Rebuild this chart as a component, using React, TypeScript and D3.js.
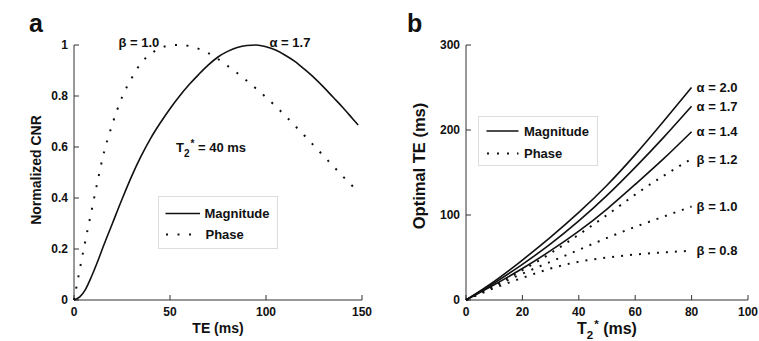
import React from 'react';
import * as d3 from 'd3';

// ---------- Panel a data ----------
const teMag = [0, 3, 6, 9, 12, 15, 20, 25, 30, 35, 40, 45, 50, 55, 60, 65, 70, 75, 80, 85, 90, 95, 100, 105, 110, 115, 120, 125, 130, 135, 140, 145, 148];
const magnitudeCNR = [0, 0.012, 0.042, 0.09, 0.145, 0.205, 0.3, 0.395, 0.485, 0.565, 0.635, 0.695, 0.75, 0.8, 0.845, 0.885, 0.922, 0.953, 0.975, 0.99, 0.998, 1.0, 0.993, 0.98, 0.96, 0.936, 0.905, 0.872, 0.835, 0.795, 0.755, 0.712, 0.686];
const tePhase = [0, 3, 6, 9, 12, 15, 20, 25, 30, 35, 40, 45, 50, 55, 60, 65, 70, 75, 80, 85, 90, 95, 100, 105, 110, 115, 120, 125, 130, 135, 140, 145, 148];
const phaseCNR = [0, 0.12, 0.235, 0.345, 0.455, 0.56, 0.69, 0.795, 0.87, 0.93, 0.965, 0.988, 0.998, 1.0, 0.996, 0.985, 0.968, 0.945, 0.918, 0.89, 0.86, 0.828, 0.795, 0.76, 0.723, 0.684, 0.645, 0.605, 0.565, 0.525, 0.485, 0.447, 0.425];
const xTicksA = [0, 50, 100, 150];
const yTicksA = [0, 0.2, 0.4, 0.6, 0.8, 1];
const yTickLabelsA = ['0', '0.2', '0.4', '0.6', '0.8', '1'];

// ---------- Panel b data ----------
const t2Star = [0, 10, 20, 30, 40, 50, 60, 70, 80];
const alpha20 = [0, 22, 47, 74, 103, 135, 171, 210, 250];
const alpha17 = [0, 20, 42, 66, 93, 123, 156, 191, 228];
const alpha14 = [0, 18, 37, 58, 81, 107, 136, 166, 198];
const beta12 = [0, 17, 35, 55, 77, 100, 124, 146, 166];
const beta10 = [0, 16, 31, 45, 59, 73, 86, 98, 110];
const beta08 = [0, 14, 26, 37, 45, 50, 53.5, 56, 58];
const seriesB = [
  { label: 'α = 2.0', values: alpha20, dotted: false },
  { label: 'α = 1.7', values: alpha17, dotted: false },
  { label: 'α = 1.4', values: alpha14, dotted: false },
  { label: 'β = 1.2', values: beta12, dotted: true },
  { label: 'β = 1.0', values: beta10, dotted: true },
  { label: 'β = 0.8', values: beta08, dotted: true },
];
const xTicksB = [0, 20, 40, 60, 80, 100];
const yTicksB = [0, 100, 200, 300];

const FONT = '"Liberation Sans", Arial, Helvetica, sans-serif';
const INK = '#111';
const AXIS = '#333';

export default function App() {
  const xA = d3.scaleLinear().domain([0, 150]).range([74, 362]);
  const yA = d3.scaleLinear().domain([0, 1]).range([300, 45]);
  const xB = d3.scaleLinear().domain([0, 100]).range([466, 748]);
  const yB = d3.scaleLinear().domain([0, 300]).range([300, 45]);

  const lineA = (xs: number[], ys: number[]) =>
    d3.line<number>().x((_, i) => xA(xs[i])).y((d) => yA(d)).curve(d3.curveMonotoneX)(ys) || '';
  const lineB = (ys: number[]) =>
    d3.line<number>().x((_, i) => xB(t2Star[i])).y((d) => yB(d)).curve(d3.curveNatural)(ys) || '';

  const dotA = '2 9.5';
  const dotB = '2 7';

  return (
    <svg width={759} height={341} style={{ position: 'absolute', left: 0, top: 0, background: '#fff' }} fontFamily={FONT} fontWeight="bold">
      <rect x={0} y={0} width={759} height={341} fill="#fff" />
      {/* ===== Panel a ===== */}
      <text x={29} y={32} fontSize={25} fill={INK}>a</text>
      <line x1={xA(0)} x2={xA(150)} y1={yA(0)} y2={yA(0)} stroke={AXIS} strokeWidth={1} />
      <line x1={xA(0)} x2={xA(0)} y1={yA(0)} y2={yA(1)} stroke={AXIS} strokeWidth={1} />
      {xTicksA.map((t) => (
        <g key={'xa' + t}>
          <line x1={xA(t)} x2={xA(t)} y1={yA(0)} y2={yA(0) - 5} stroke={AXIS} />
          <text x={xA(t)} y={315.5} fontSize={12} textAnchor="middle" fill={INK}>{t}</text>
        </g>
      ))}
      {yTicksA.map((t, i) => (
        <g key={'ya' + t}>
          <line x1={xA(0)} x2={xA(0) + 5} y1={yA(t)} y2={yA(t)} stroke={AXIS} />
          <text x={68} y={yA(t)} dy="0.36em" fontSize={12} textAnchor="end" fill={INK}>{yTickLabelsA[i]}</text>
        </g>
      ))}
      <text x={xA(75)} y={333} fontSize={14} textAnchor="middle" fill={INK}>TE (ms)</text>
      <text transform="translate(41,170) rotate(-90)" fontSize={14} textAnchor="middle" fill={INK}>Normalized CNR</text>
      <path d={lineA(teMag, magnitudeCNR)} fill="none" stroke={INK} strokeWidth={1.6} />
      <path d={lineA(tePhase, phaseCNR)} fill="none" stroke={INK} strokeWidth={2} strokeDasharray={dotA} />
      <text x={118.5} y={46.5} fontSize={13} fill={INK}>β = 1.0</text>
      <text x={269.5} y={46.5} fontSize={13} fill={INK}>α = 1.7</text>
      <text x={176} y={151.5} fontSize={13} fill={INK}>
        T<tspan fontSize={10} dy={5}>2</tspan><tspan fontSize={10} dy={-10} dx={1}>*</tspan><tspan dy={5}> = 40 ms</tspan>
      </text>
      <rect x={158.5} y={196.5} width={119} height={52} fill="#fff" stroke="#ddd" strokeWidth={1} />
      <line x1={165.5} x2={200} y1={213.5} y2={213.5} stroke={INK} strokeWidth={1.6} />
      <text x={204.5} y={218} fontSize={13} fill={INK}>Magnitude</text>
      <line x1={166} x2={200} y1={234.5} y2={234.5} stroke={INK} strokeWidth={2} strokeDasharray={dotA} />
      <text x={205.5} y={239} fontSize={13} fill={INK}>Phase</text>

      {/* ===== Panel b ===== */}
      <text x={407} y={32} fontSize={25} fill={INK}>b</text>
      <line x1={xB(0)} x2={xB(100)} y1={yB(0)} y2={yB(0)} stroke={AXIS} strokeWidth={1} />
      <line x1={xB(0)} x2={xB(0)} y1={yB(0)} y2={yB(300)} stroke={AXIS} strokeWidth={1} />
      {xTicksB.map((t) => (
        <g key={'xb' + t}>
          <line x1={xB(t)} x2={xB(t)} y1={yB(0)} y2={yB(0) - 5} stroke={AXIS} />
          <text x={xB(t)} y={315.5} fontSize={12} textAnchor="middle" fill={INK}>{t}</text>
        </g>
      ))}
      {yTicksB.map((t) => (
        <g key={'yb' + t}>
          <line x1={xB(0)} x2={xB(0) + 5} y1={yB(t)} y2={yB(t)} stroke={AXIS} />
          <text x={460} y={yB(t)} dy="0.36em" fontSize={12} textAnchor="end" fill={INK}>{t}</text>
        </g>
      ))}
      <text x={xB(50)} y={333.5} fontSize={16} textAnchor="middle" fill={INK}>
        T<tspan fontSize={11.5} dy={5}>2</tspan><tspan fontSize={11.5} dy={-11} dx={1}>*</tspan><tspan dy={6}> (ms)</tspan>
      </text>
      <text transform="translate(425,166) rotate(-90)" fontSize={16.5} textAnchor="middle" fill={INK}>Optimal TE (ms)</text>
      {seriesB.map((s) => (
        <g key={s.label}>
          <path d={lineB(s.values)} fill="none" stroke={INK} strokeWidth={s.dotted ? 2 : 1.6} strokeDasharray={s.dotted ? dotB : undefined} />
          <text x={xB(80) + 5} y={yB(s.values[s.values.length - 1])} dy="0.36em" fontSize={13} fill={INK}>{s.label}</text>
        </g>
      ))}
      <rect x={478.5} y={116.5} width={119} height={49} fill="#fff" stroke="#ddd" strokeWidth={1} />
      <line x1={486.5} x2={518.5} y1={131} y2={131} stroke={INK} strokeWidth={1.6} />
      <text x={524} y={135.5} fontSize={13} fill={INK}>Magnitude</text>
      <line x1={487} x2={518.5} y1={153.5} y2={153.5} stroke={INK} strokeWidth={2} strokeDasharray="2 8" />
      <text x={524} y={158} fontSize={13} fill={INK}>Phase</text>
    </svg>
  );
}
